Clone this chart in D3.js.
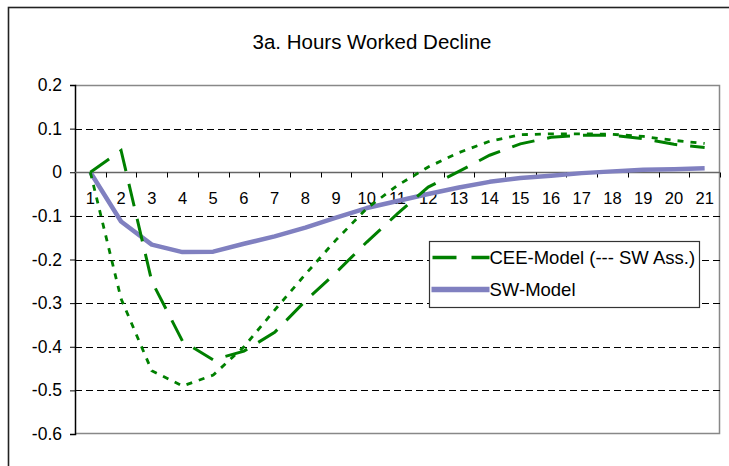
<!DOCTYPE html>
<html>
<head>
<meta charset="utf-8">
<script src="https://cdn.jsdelivr.net/npm/d3@7"></script>
<style>
  body { margin: 0; background: #fff; }
  svg { display: block; font-family: "Liberation Sans", Arial, sans-serif; }
</style>
</head>
<body>
<div id="chart"></div>
<script>
// chart data
const categories = ["1", "2", "3", "4", "5", "6", "7", "8", "9", "10", "11",
    "12", "13", "14", "15", "16", "17", "18", "19", "20", "21"];
const ceeModel = [0, 0.05, -0.25, -0.387, -0.43, -0.41, -0.367, -0.295, -0.23, -0.16, -0.095,
    -0.034, 0.002, 0.039, 0.065, 0.08, 0.085, 0.085, 0.077, 0.064, 0.057];
const ceeSwAss = [0, -0.29, -0.455, -0.49, -0.465, -0.4, -0.316, -0.234, -0.155, -0.083, -0.03,
    0.012, 0.045, 0.071, 0.086, 0.088, 0.088, 0.087, 0.082, 0.073, 0.066];
const swModel = [0, -0.113, -0.166, -0.183, -0.182, -0.164, -0.147, -0.127, -0.104, -0.082, -0.066,
    -0.05, -0.035, -0.022, -0.013, -0.008, -0.002, 0.002, 0.006, 0.007, 0.009];
const yTicks = [0.2, 0.1, 0, -0.1, -0.2, -0.3, -0.4, -0.5, -0.6];
const legendLabels = ["CEE-Model (--- SW Ass.)", "SW-Model"];
const title = "3a. Hours Worked Decline";

let W = 729, H = 466,
    margin = { top: 85, left: 75, right: 9, bottom: 32 },
    width = W - margin.left - margin.right,
    height = H - margin.top - margin.bottom;

let svg = d3.select("#chart").append("svg")
    .attr("width", W)
    .attr("height", H);

// outer chart border
svg.append("rect")
    .attr("x", 8.5).attr("y", 7.5)
    .attr("width", 800).attr("height", 800)
    .attr("fill", "none")
    .attr("stroke", "#222")
    .attr("stroke-width", 1.6);

svg.append("text")
    .attr("x", 372)
    .attr("y", 49)
    .attr("text-anchor", "middle")
    .style("font-size", "20.5px")
    .text(title);

let g = svg.append("g")
    .attr("transform", "translate(" + margin.left + "," + margin.top + ")");

let x = d3.scaleBand()
    .domain(categories)
    .range([0, width])
    .padding(0);

let y = d3.scaleLinear()
    .domain([-0.6, 0.2])
    .range([height, 0]);

// plot area border (top / right / bottom)
g.append("path")
    .attr("d", "M0,0.5H" + (width - 0.5) + "V" + (height - 0.5) + "H0")
    .attr("fill", "none")
    .attr("stroke", "#888")
    .attr("stroke-width", 1.5);

// dashed gridlines
g.append("g")
    .selectAll("line")
    .data(yTicks.filter(d => d !== 0 && d !== 0.2 && d !== -0.6))
    .enter().append("line")
    .attr("x1", 0)
    .attr("x2", width)
    .attr("y1", d => Math.round(y(d)) + 0.5)
    .attr("y2", d => Math.round(y(d)) + 0.5)
    .attr("stroke", "#000")
    .attr("stroke-dasharray", "7,4");

// y axis
let yAxis = g.append("g")
    .call(d3.axisLeft(y)
        .tickValues(yTicks)
        .tickSize(5)
        .tickPadding(8)
        .tickFormat(d => d === 0 ? "0" : d.toFixed(1)));
yAxis.select(".domain").attr("stroke", "#000").attr("stroke-width", 1.5);
yAxis.selectAll("text").style("font-size", "17.5px").attr("fill", "#000").attr("font-family", null);

// x axis on zero line
let y0 = Math.round(y(0)) + 0.5;
g.append("line")
    .attr("x1", 0).attr("x2", width)
    .attr("y1", y0).attr("y2", y0)
    .attr("stroke", "#666")
    .attr("stroke-width", 1.5);

let bounds = categories.slice(1).map(c => x(c)).concat([width]);
g.append("g")
    .selectAll("line")
    .data(bounds)
    .enter().append("line")
    .attr("x1", d => Math.round(d) + 0.5)
    .attr("x2", d => Math.round(d) + 0.5)
    .attr("y1", y0)
    .attr("y2", y0 + 5)
    .attr("stroke", "#000");

g.append("g")
    .selectAll("text")
    .data(categories)
    .enter().append("text")
    .attr("x", d => x(d) + x.bandwidth() / 2)
    .attr("y", y0 + 31)
    .attr("text-anchor", "middle")
    .style("font-size", "16.5px")
    .text(d => d);

let line = d3.line()
    .x((d, i) => x(categories[i]) + x.bandwidth() / 2)
    .y(d => y(d));

g.append("path")
    .datum(swModel)
    .attr("d", line)
    .attr("fill", "none")
    .attr("stroke", "#8080c0")
    .attr("stroke-width", 4.5)
    .attr("stroke-linejoin", "round");

g.append("path")
    .datum(ceeSwAss)
    .attr("d", line)
    .attr("fill", "none")
    .attr("stroke", "#008000")
    .attr("stroke-width", 2.8)
    .attr("stroke-dasharray", "6,7");

g.append("path")
    .datum(ceeModel)
    .attr("d", line)
    .attr("fill", "none")
    .attr("stroke", "#008000")
    .attr("stroke-width", 3)
    .attr("stroke-dasharray", "23,13");

// legend
let legend = svg.append("g")
    .attr("transform", "translate(429.5,241.5)");

legend.append("rect")
    .attr("width", 270)
    .attr("height", 66)
    .attr("fill", "#fff")
    .attr("stroke", "#333")
    .attr("stroke-width", 1.2);

legend.append("line")
    .attr("x1", 3).attr("x2", 60)
    .attr("y1", 16).attr("y2", 16)
    .attr("stroke", "#008000")
    .attr("stroke-width", 3.5)
    .attr("stroke-dasharray", "24,15");

legend.append("line")
    .attr("x1", 2).attr("x2", 60)
    .attr("y1", 48).attr("y2", 48)
    .attr("stroke", "#8080c0")
    .attr("stroke-width", 5.5);

legend.selectAll("text")
    .data(legendLabels)
    .enter().append("text")
    .attr("x", 60)
    .attr("y", (d, i) => 16 + i * 32)
    .attr("dy", "0.36em")
    .style("font-size", "18.5px")
    .text(d => d);
</script>
</body>
</html>
